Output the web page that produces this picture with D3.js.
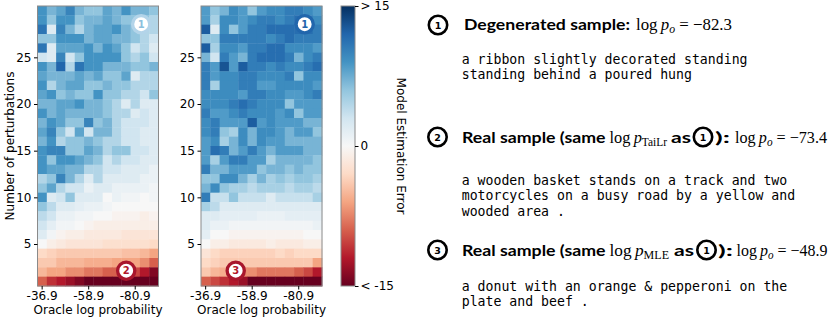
<!DOCTYPE html>
<html><head><meta charset="utf-8">
<script src="https://cdn.jsdelivr.net/npm/d3@7"></script>
<style>body{margin:0;background:#fff;} svg{display:block;}</style>
</head><body><svg id="c" width="830" height="320"></svg>
<script>
// ---------------- data ----------------
const logProbCategories = ["-36.9","-41.3","-45.7","-50.1","-54.5","-58.9","-63.3","-67.7","-72.1","-76.5","-80.9","-85.3","-89.7"];
const xTickLabels = ["-36.9","-58.9","-80.9"];
const perturbationRows = [30,29,28,27,26,25,24,23,22,21,20,19,18,17,16,15,14,13,12,11,10,9,8,7,6,5,4,3,2,1];
const yTickValues = [5,10,15,20,25];
const colorbarTicks = [15,0,-15];
const colorbarTickLabels = ["> 15","0","< -15"];

// model estimation error, rows from 30 perturbations (top) to 1 (bottom)
const errorTaiLr = [
 [9,7,8,10,7,6,6,8,7,9,7,7,6],
 [9,6,9,9,6,7,7,8,7,6,6,6,4.5],
 [11,2,10,7,4.5,7,8,8,9,7,6,4.5,4.5],
 [6,6,9,9,9,7,8,8,7,7,6,4.5,3],
 [11,2,8,8,8,9,7,9,8,6,3,4.5,2],
 [3,2,10,3,6,9,9,9,9,6,4.5,6,3],
 [9,7,12,4.5,11,9,9,7,7,7,6,6,7],
 [8,7,7,7,8,7,8,6,6,8,2,4.5,4.5],
 [9,4.5,7,8,8,6,6,7,6,6,4.5,4.5,4.5],
 [8,9,6,7,6,6,9,6,6,4.5,4.5,3,6],
 [7,7,8,8,9,7,7,6,4.5,2,4.5,2,2],
 [9,7,8,7,7,7,7,6,4.5,4.5,2,3,2],
 [7,9,8,6,6,10,6,7,4.5,3,3,3,2],
 [8,10,6,3,8,3,7,7,4.5,3,3,2,2],
 [7,9,4.5,6,6,7,6,4.5,4.5,3,3,2,2],
 [9,10,10,6,6,8,7,4.5,6,6,3,3,2],
 [9,6,9,9,8,7,6,3,4.5,3,3,2,2],
 [9,8,8,7,7,4.5,4.5,3,3,2,2,2,1],
 [4.5,6,10,7,4.5,2,4.5,2,2,2,2,1,1],
 [6,8,4.5,3,3,1,2,2,1,1,1,1,0.5],
 [9,2,3,6,2,2,2,0,1,0.5,0.5,0,0.5],
 [6,4,2,2,1.5,1,1,0.5,0,0,0,0,0],
 [4,3,1,1,0.5,0.5,0,0,-0.5,-0.5,-0.5,-1,-0.5],
 [3,1.5,0.5,0.5,0,-0.5,-1,-1,-1,-1,-1,-1,-1],
 [2,0.5,-0.5,-1,-1,-1.5,-1.5,-1.5,-1.5,-2,-2,-2,-2],
 [0,-1,-1.5,-2,-2,-2,-2,-2.5,-2.5,-2.5,-2.5,-2.5,-3],
 [-3,-3.5,-4,-4,-4,-4,-4,-4,-4,-4.5,-4.5,-5,-6],
 [-4,-4,-5,-5,-5,-5.5,-5.5,-5.5,-6,-6,-6,-7,-9],
 [-5,-6,-6,-7,-7,-8,-8,-9,-9,-10,-10,-12,-14],
 [-9,-11,-12,-13,-14,-15,-15,-15,-15,-15,-15,-15,-15]
];
const errorMLE = [
 [8.5,6,7,9.5,8.5,6,8.5,9.5,9.5,10.5,10.5,9.5,8.5],
 [8.5,5,9.5,9.5,8.5,9.5,10.5,10.5,9.5,10.5,11.5,10.5,9.5],
 [12.5,2,9.5,6,8.5,10.5,10.5,11.5,11.5,11.5,11.5,11.5,10.5],
 [6,6,10.5,10.5,10.5,10.5,10.5,9.5,10.5,11.5,10.5,10.5,10.5],
 [12.5,5,9.5,9.5,8.5,10.5,10.5,11.5,11.5,9.5,9.5,9.5,8.5],
 [7,3,10.5,8.5,7,10.5,11.5,11.5,11.5,10.5,7,9.5,10.5],
 [10.5,8.5,13,8.5,12.5,10.5,10.5,9.5,10.5,9.5,9.5,10.5,11.5],
 [10.5,8.5,9.5,9.5,10.5,10.5,9.5,9.5,9.5,10.5,6,9.5,9.5],
 [10.5,5,9.5,9.5,10.5,10.5,8.5,8.5,9.5,9.5,9.5,9.5,8.5],
 [9.5,9.5,9.5,9.5,8.5,10.5,10.5,9.5,9.5,8.5,8.5,9.5,10.5],
 [9.5,9.5,9.5,10.5,11.5,10.5,9.5,9.5,9.5,6,8.5,8.5,8.5],
 [10.5,8.5,8.5,9.5,10.5,9.5,9.5,9.5,8.5,9.5,6,8.5,8.5],
 [9.5,10.5,8.5,8.5,8.5,12.5,8.5,9.5,8.5,8.5,8.5,7,7],
 [9.5,10.5,6,5,9.5,7,9.5,9.5,8.5,7,8.5,8.5,6],
 [8.5,9.5,5,7,9.5,7,9.5,8.5,8.5,7,7,7,7],
 [8.5,11.5,10.5,7,8.5,10.5,8.5,7,8.5,8.5,8.5,7,7],
 [8.5,5,8.5,10.5,10.5,8.5,8.5,5,7,7,7,7,6],
 [10.5,7,7,8.5,8.5,8.5,6,7,7,6,7,6,6],
 [6,6,9.5,9.5,7,5,7,5,6,5,6,6,5],
 [7,9.5,6,5,5,4,5,5,5,4,5,5,4],
 [10.5,3.5,3.5,6,3.5,3.5,3.5,2,3.5,3.5,3.5,3.5,5],
 [5,4,2,2,2,2,2,2,2,2,2,2,2],
 [2,2,1.5,1.5,1.5,1.5,1,1,1,1.5,1.5,1.5,1.5],
 [2,1,1,0.5,0.5,0.5,0.5,0.5,0.5,0.5,0.5,0.5,1],
 [1.5,0,0,-0.5,-0.5,-0.5,-0.5,-0.5,-0.5,-0.5,-0.5,0,0],
 [0,-1,-1,-1.5,-1.5,-1.5,-1.5,-1,-1.5,-1.5,-1.5,-1,-1],
 [-2,-3,-3.5,-3.5,-3.5,-3.5,-3.5,-3.5,-3,-3.5,-3,-3,-3],
 [-3,-3.5,-4,-4,-4,-4,-4,-4,-4,-4,-4,-4,-6],
 [-4,-5,-5.5,-6,-7,-7,-8,-8,-8,-8,-9,-10,-12],
 [-9,-10,-11,-12,-13,-15,-15,-15,-15,-15,-15,-15,-15]
];

// annotation markers placed on the heatmaps (column index, row value)
const markersTaiLr = [{id:"1", col:10.64, row:28.55, kind:"light"}, {id:"2", col:9.03, row:2.14, kind:"red"}];
const markersMLE   = [{id:"1", col:10.64, row:28.55, kind:"blue"}, {id:"3", col:3.23, row:2.14, kind:"red"}];

// ---------------- drawing ----------------
const svg = d3.select("#c");
const FONT = "'DejaVu Sans', sans-serif";
const rdbu = ["#67001f","#b2182b","#d6604d","#f4a582","#fddbc7","#f7f7f7","#d1e5f0","#92c5de","#4393c3","#2166ac","#053061"];
const color = d3.scaleLinear().domain(d3.range(11).map(i => -15 + i*3)).range(rdbu).clamp(true);

const plotTop = 6, plotBottom = 286;
const y = d3.scaleLinear().domain([0.5, 30.5]).range([plotBottom, plotTop]);

const markerStyle = {
  light: {ring:"#b3d4e9", text:"#8cc0dd"},
  blue:  {ring:"#2166ac", text:"#2166ac"},
  red:   {ring:"#a8162c", text:"#b2182b"}
};

function drawHeatmap(x0, width, data, markers) {
  const g = svg.append("g");
  const x = d3.scaleBand().domain(logProbCategories).range([x0, x0 + width]);
  const cellH = Math.abs(y(1) - y(0));
  data.forEach((row, ri) => {
    const r = perturbationRows[ri];
    row.forEach((v, ci) => {
      g.append("rect")
        .attr("x", x(logProbCategories[ci]))
        .attr("y", y(r + 0.5))
        .attr("width", x.bandwidth() + 0.4)
        .attr("height", cellH + 0.4)
        .attr("fill", color(v));
    });
  });
  g.append("rect").attr("x", x0).attr("y", plotTop).attr("width", width).attr("height", plotBottom - plotTop)
    .attr("fill", "none").attr("stroke", "#8a8a8a").attr("stroke-width", 1);

  const ya = g.append("g").attr("transform", `translate(${x0},0)`)
    .call(d3.axisLeft(y).tickValues(yTickValues).tickSize(3.5).tickPadding(2.5).tickFormat(d3.format("d")));
  const xa = g.append("g").attr("transform", `translate(0,${plotBottom})`)
    .call(d3.axisBottom(x).tickValues(xTickLabels).tickSize(3.5).tickPadding(2));
  [ya, xa].forEach(a => {
    a.select(".domain").remove();
    a.selectAll("text").attr("font-family", FONT).attr("font-size", 12).attr("fill", "#000");
    a.selectAll("line").attr("stroke", "#000");
  });
  g.append("text").attr("x", x0 + width/2).attr("y", 314).attr("text-anchor", "middle")
    .attr("font-family", FONT).attr("font-size", 12).text("Oracle log probability");

  markers.forEach(m => {
    const cx = x0 + (m.col + 0.5) * x.bandwidth();
    const cy = y(m.row);
    const st = markerStyle[m.kind];
    g.append("circle").attr("cx", cx).attr("cy", cy).attr("r", 8.6)
      .attr("fill", "#fff").attr("stroke", st.ring).attr("stroke-width", 3.3);
    g.append("text").attr("x", cx).attr("y", cy + 3.6).attr("text-anchor", "middle")
      .attr("font-family", FONT).attr("font-weight", "bold").attr("font-size", 10)
      .attr("fill", st.text).text(m.id);
  });
}

drawHeatmap(37.5, 121, errorTaiLr, markersTaiLr);
drawHeatmap(201, 121, errorMLE, markersMLE);

svg.append("text").attr("transform", "translate(13.5,146) rotate(-90)").attr("text-anchor", "middle")
  .attr("font-family", FONT).attr("font-size", 12).text("Number of perturbations");

// colorbar
const cbX = 341, cbW = 14;
const cbY = d3.scaleLinear().domain([-15, 15]).range([plotBottom, plotTop]);
const defs = svg.append("defs");
const grad = defs.append("linearGradient").attr("id", "cbg").attr("x1", 0).attr("y1", 1).attr("x2", 0).attr("y2", 0);
d3.range(0, 31).forEach(i => {
  const v = -15 + i;
  grad.append("stop").attr("offset", i/30).attr("stop-color", color(v));
});
svg.append("rect").attr("x", cbX).attr("y", plotTop).attr("width", cbW).attr("height", plotBottom - plotTop)
  .attr("fill", "url(#cbg)").attr("stroke", "#8a8a8a").attr("stroke-width", 1);
const cba = svg.append("g").attr("transform", `translate(${cbX + cbW},0)`)
  .call(d3.axisRight(cbY).tickValues(colorbarTicks).tickSize(3.5).tickPadding(2)
    .tickFormat((d, i) => colorbarTickLabels[i]));
cba.select(".domain").remove();
cba.selectAll("text").attr("font-family", FONT).attr("font-size", 12).attr("fill", "#000");
cba.selectAll("line").attr("stroke", "#000");
svg.append("text").attr("transform", "translate(397,146) rotate(90)").attr("text-anchor", "middle")
  .attr("font-family", FONT).attr("font-size", 12).text("Model Estimation Error");

// ---------------- right panel ----------------
const HEAD = "Lato, 'Open Sans', sans-serif";
const MATH = "'Liberation Serif', 'DejaVu Serif', serif";
const MONO = "'DejaVu Sans Mono', monospace";

function badge(cx, cy, label) {
  svg.append("circle").attr("cx", cx).attr("cy", cy).attr("r", 9.2)
    .attr("fill", "#fff").attr("stroke", "#000").attr("stroke-width", 2.6);
  svg.append("text").attr("x", cx).attr("y", cy + 3.5).attr("text-anchor", "middle")
    .attr("font-family", FONT).attr("font-weight", "bold").attr("font-size", 9.5).text(label);
}
function head(x, yy, t, len) {
  svg.append("text").attr("x", x).attr("y", yy).attr("font-family", HEAD).attr("font-weight", "bold")
    .attr("font-size", 16).attr("textLength", len).attr("lengthAdjust", "spacingAndGlyphs").text(t);
}
function math(x, yy, parts, len) {
  const t = svg.append("text").attr("x", x).attr("y", yy).attr("font-family", MATH).attr("font-size", 16.5)
    .attr("textLength", len).attr("lengthAdjust", "spacingAndGlyphs");
  parts.forEach(p => {
    const s = t.append("tspan").text(p.t);
    if (p.i) s.attr("font-style", "italic");
    if (p.sub) s.attr("font-size", 11.5).attr("dy", 3);
    if (p.up) s.attr("dy", -3);
  });
}
function body(x, y0, lines) {
  lines.forEach((l, i) => {
    svg.append("text").attr("x", x).attr("y", y0 + i * 15.4).attr("font-family", MONO)
      .attr("font-size", 13.2).style("white-space", "pre").text(l);
  });
}

// section 1
badge(438, 25, "1");
head(464, 30, "Degenerated sample:", 166);
math(636, 30, [{t:"log\u2009"},{t:"p",i:1},{t:"o",i:1,sub:1},{t:" = \u221282.3",up:1}], 96);
body(461.7, 64, ["a ribbon slightly decorated standing", "standing behind a poured hung"]);

// section 2
badge(437.5, 137, "2");
head(462, 142.5, "Real sample (same", 143.5);
math(609.5, 142.5, [{t:"log\u2009"},{t:"p",i:1},{t:"TaiLr",sub:1}], 57.5);
head(671, 142.5, "as", 20);
badge(703, 137, "1");
head(715, 142.5, "):", 15);
math(735, 142.5, [{t:"log\u2009"},{t:"p",i:1},{t:"o",i:1,sub:1},{t:" = \u221273.4",up:1}], 92);
body(461.7, 185, ["a wooden basket stands on a track and two", "motorcycles on a busy road by a yellow and", "wooded area ."]);

// section 3
badge(437.5, 250, "3");
head(462, 256, "Real sample (same", 143.5);
math(609.5, 256, [{t:"log\u2009"},{t:"p",i:1},{t:"MLE",sub:1}], 59.5);
head(674, 256, "as", 20);
badge(706.5, 250, "1");
head(718, 256, "):", 15);
math(736.5, 256, [{t:"log\u2009"},{t:"p",i:1},{t:"o",i:1,sub:1},{t:" = \u221248.9",up:1}], 91);
body(461.7, 291, ["a donut with an orange & pepperoni on the", "plate and beef ."]);
</script>
</body></html>
